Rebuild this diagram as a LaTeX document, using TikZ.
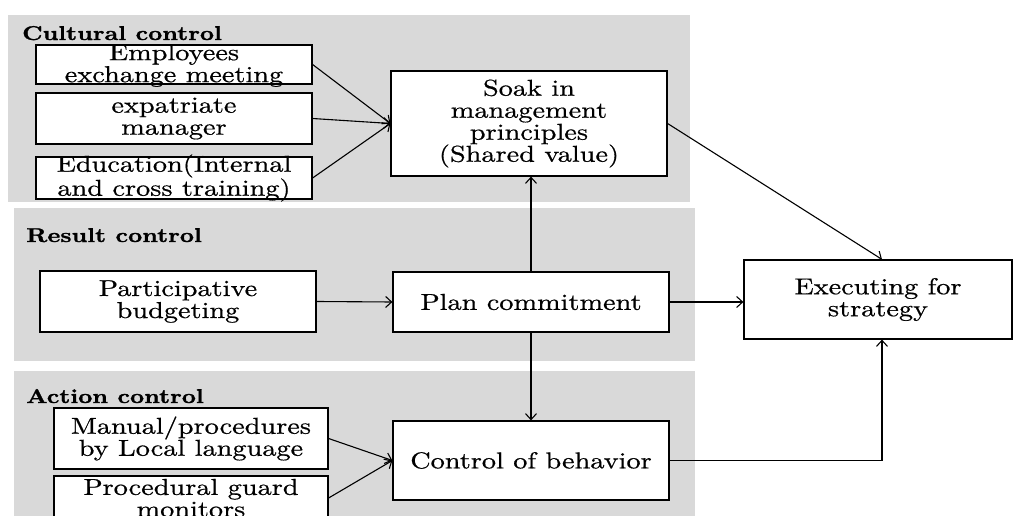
\documentclass[tikz,border=0pt]{standalone}
\usepackage{fontspec}
\setmainfont{lmroman10}[Extension=.otf, UprightFont=*-regular, BoldFont=*-bold,
  FakeStretch=1.23, UprightFeatures={FakeBold=0.6}, BoldFeatures={FakeBold=1.2}]
\usetikzlibrary{arrows.meta}
\definecolor{panelgrey}{RGB}{217,217,217}
\tikzset{
  panel/.style={fill=panelgrey, draw=none},
  box/.style={draw=black, fill=white, line width=1.2pt, inner sep=0pt},
  boxtext/.style={align=center, font=\fontsize{23}{22}\selectfont, inner sep=0pt},
  grouptitle/.style={font=\fontsize{20}{22}\selectfont\bfseries, anchor=base west, inner sep=0pt},
  conn/.style={line width=1.1pt, -{Straight Barb[length=6pt,width=11pt]}},
}
\begin{document}
\begin{tikzpicture}[x=1pt, y=-1pt]
\useasboundingbox (0,0) rectangle (1013,516);
\clip (0,0) rectangle (1013,516);

% control groups
\fill[panel] (8,15) rectangle (690,202);
\fill[panel] (14,208) rectangle (695,361);
\fill[panel] (14,371) rectangle (695,516);
\node[grouptitle] (tcult) at (22,40) {Cultural control};
\node[grouptitle] (tres) at (26,242) {Result control};
\node[grouptitle] (tact) at (26,403) {Action control};

% cultural control
\node[box, minimum width=276pt, minimum height=39pt] (emp) at (174,64.5) {};
\node[boxtext] (empt) at ([yshift=-1pt]emp) {Employees\\exchange meeting};
\node[box, minimum width=276pt, minimum height=51pt] (exp) at (174,118.5) {};
\node[boxtext] (expt) at (exp) {expatriate\\manager};
\node[box, minimum width=276pt, minimum height=42pt] (edu) at (174,178) {};
\node[boxtext] (edut) at (edu) {Education(Internal\\and cross training)};
\node[box, minimum width=276pt, minimum height=105pt] (soak) at (529,123.5) {};
\node[boxtext] (soakt) at (soak) {Soak in\\management\\principles\\(Shared value)};

% result control
\node[box, minimum width=276pt, minimum height=61pt] (part) at (178,301.5) {};
\node[boxtext] (partt) at (part) {Participative\\budgeting};
\node[box, minimum width=276pt, minimum height=60pt] (plan) at (531,302) {};
\node[boxtext] (plant) at (plan) {Plan commitment};

% action control
\node[box, minimum width=274pt, minimum height=61pt] (man) at (191,438.5) {};
\node[boxtext] (mant) at (man) {Manual/procedures\\by Local language};
\node[box, minimum width=274pt, minimum height=44pt] (proc) at (191,498) {};
\node[boxtext] (proct) at (proc) {Procedural guard\\monitors};
\node[box, minimum width=276pt, minimum height=79pt] (ctrl) at (531,460.5) {};
\node[boxtext] (ctrlt) at (ctrl) {Control of behavior};

% outcome
\node[box, minimum width=268pt, minimum height=79pt] (exe) at (878,299.5) {};
\node[boxtext] (exet) at (exe) {Executing for\\strategy};

% connectors
\draw[conn] (emp.east) -- (soak.west);
\draw[conn] (exp.east) -- (soak.west);
\draw[conn] (edu.east) -- (soak.west);
\draw[conn] (part.east) -- (plan.west);
\draw[conn] (plan.north) -- (plan.north |- soak.south);
\draw[conn] (plan.south) -- (ctrl.north);
\draw[conn] (plan.east) -- (plan.east -| exe.west);
\draw[conn] (soak.east) -- ([xshift=4pt]exe.north);
\draw[conn] (man.east) -- (ctrl.west);
\draw[conn] (proc.east) -- (ctrl.west);
\draw[conn] (ctrl.east) -| ([xshift=4pt]exe.south);
\end{tikzpicture}
\end{document}
